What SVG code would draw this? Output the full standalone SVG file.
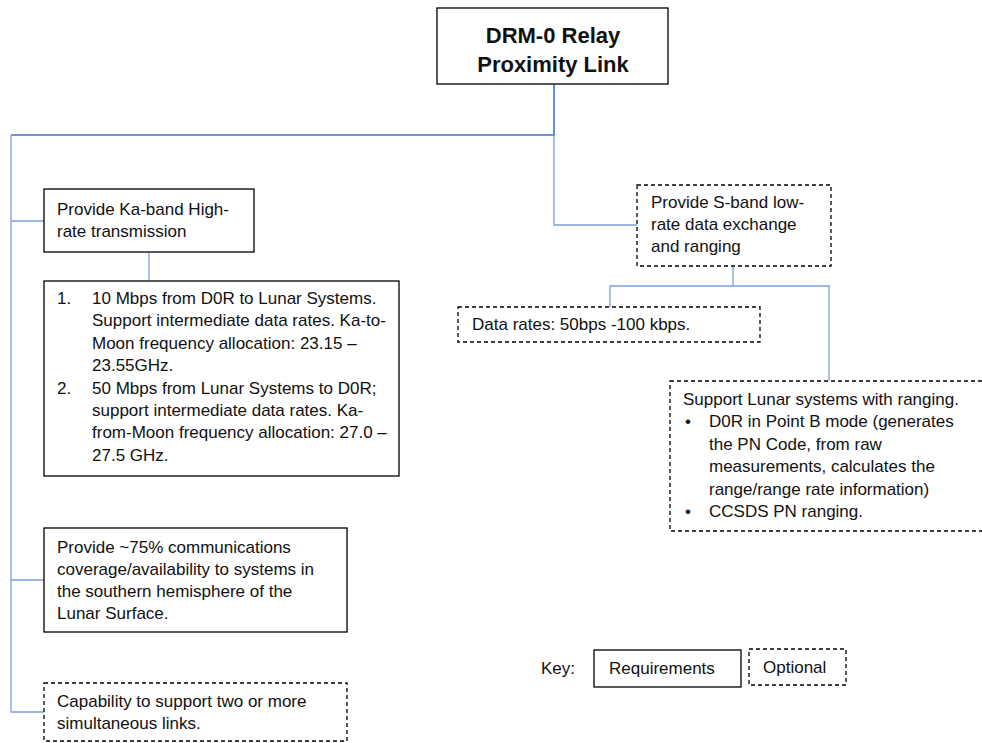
<svg xmlns="http://www.w3.org/2000/svg" width="982" height="743" viewBox="0 0 982 743">
  <style>
    .req { fill: #ffffff; stroke: #000000; stroke-width: 1.3; }
    .opt { fill: #ffffff; stroke: #000000; stroke-width: 1.3; stroke-dasharray: 4 3; }
    .t { font-family: "Liberation Sans", Arial, sans-serif; font-size: 17px; fill: #111111; }
    .title { font-family: "Liberation Sans", Arial, sans-serif; font-size: 22px; font-weight: bold; fill: #111111; text-anchor: middle; }
    .main { fill: none; stroke: #4472c4; stroke-width: 1.6; }
    .branch { fill: none; stroke: #7d9fdc; stroke-width: 1.3; }
  </style>
  <rect width="982" height="743" fill="#ffffff"/>

  <!-- connectors -->
  <g id="connectors">
    <polyline class="main" points="554,84 554,135 11,135"/>
    <polyline class="branch" points="11,135 11,712 44,712"/>
    <line class="branch" x1="11" y1="221" x2="44" y2="221"/>
    <line class="branch" x1="11" y1="580" x2="44" y2="580"/>
    <line class="branch" x1="149" y1="252" x2="149" y2="281"/>
    <polyline class="branch" points="554,135 554,225 637,225"/>
    <line class="branch" x1="733" y1="266" x2="733" y2="286"/>
    <polyline class="branch" points="610,307 610,286 829,286 829,381"/>
  </g>

  <!-- root -->
  <g id="root">
    <rect class="req" x="437" y="8" width="231" height="76"/>
    <text class="title" x="553" y="43">DRM-0 Relay</text>
    <text class="title" x="553" y="72">Proximity Link</text>
  </g>

  <!-- Ka-band -->
  <g id="ka-band">
    <rect class="req" x="44" y="189" width="210" height="63"/>
    <text class="t" x="57" y="215">Provide Ka-band High-</text>
    <text class="t" x="57" y="237">rate transmission</text>
  </g>

  <g id="ka-details">
    <rect class="req" x="44" y="281" width="355" height="195"/>
    <text class="t" x="57" y="304">1.</text>
    <text class="t" x="92" y="304">10 Mbps from D0R to Lunar Systems.</text>
    <text class="t" x="92" y="326.4">Support intermediate data rates. Ka-to-</text>
    <text class="t" x="92" y="348.8">Moon frequency allocation: 23.15 –</text>
    <text class="t" x="92" y="371.2">23.55GHz.</text>
    <text class="t" x="57" y="393.6">2.</text>
    <text class="t" x="92" y="393.6">50 Mbps from Lunar Systems to D0R;</text>
    <text class="t" x="92" y="416">support intermediate data rates. Ka-</text>
    <text class="t" x="92" y="438.4">from-Moon frequency allocation: 27.0 –</text>
    <text class="t" x="92" y="460.8">27.5 GHz.</text>
  </g>

  <g id="coverage">
    <rect class="req" x="44" y="528" width="303" height="104"/>
    <text class="t" x="57" y="553">Provide ~75% communications</text>
    <text class="t" x="57" y="575">coverage/availability to systems in</text>
    <text class="t" x="57" y="597">the southern hemisphere of the</text>
    <text class="t" x="57" y="619">Lunar Surface.</text>
  </g>

  <g id="multi-link">
    <rect class="opt" x="44" y="683" width="303" height="58"/>
    <text class="t" x="57" y="707">Capability to support two or more</text>
    <text class="t" x="57" y="729">simultaneous links.</text>
  </g>

  <!-- S-band -->
  <g id="s-band">
    <rect class="opt" x="637" y="185" width="194" height="81"/>
    <text class="t" x="651" y="208">Provide S-band low-</text>
    <text class="t" x="651" y="230">rate data exchange</text>
    <text class="t" x="651" y="252">and ranging</text>
  </g>

  <g id="data-rates">
    <rect class="opt" x="458" y="307" width="302" height="35"/>
    <text class="t" x="472" y="330">Data rates: 50bps -100 kbps.</text>
  </g>

  <g id="ranging">
    <rect class="opt" x="670" y="381" width="330" height="150"/>
    <text class="t" x="683" y="405">Support Lunar systems with ranging.</text>
    <text class="t" x="685" y="427.4">•</text>
    <text class="t" x="709" y="427.4">D0R in Point B mode (generates</text>
    <text class="t" x="709" y="449.8">the PN Code, from raw</text>
    <text class="t" x="709" y="472.2">measurements, calculates the</text>
    <text class="t" x="709" y="494.6">range/range rate information)</text>
    <text class="t" x="685" y="517">•</text>
    <text class="t" x="709" y="517">CCSDS PN ranging.</text>
  </g>

  <!-- legend -->
  <g id="key">
    <text class="t" x="541" y="674">Key:</text>
    <rect class="req" x="594" y="650" width="147" height="37"/>
    <text class="t" x="609" y="674">Requirements</text>
    <rect class="opt" x="749" y="649" width="97" height="36"/>
    <text class="t" x="763" y="673">Optional</text>
  </g>
</svg>
